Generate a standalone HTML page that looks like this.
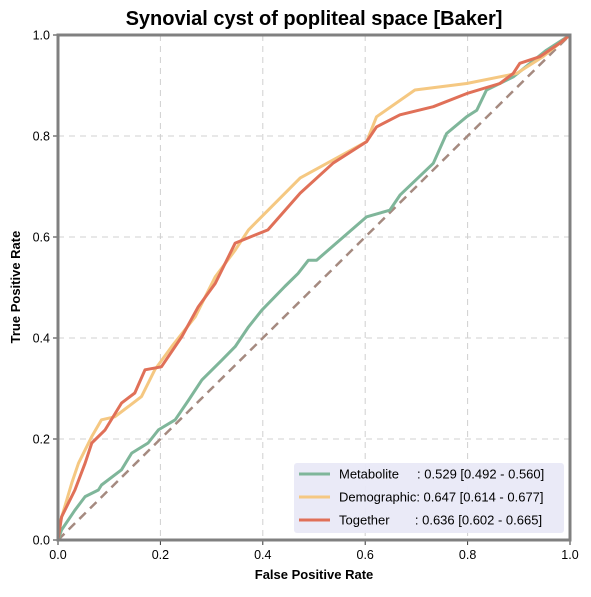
<!DOCTYPE html>
<html><head><meta charset="utf-8"><style>
body{margin:0;background:#fff;font-family:"Liberation Sans",sans-serif}
text{white-space:pre}
</style></head><body>
<svg width="591" height="592" xmlns="http://www.w3.org/2000/svg" font-family="Liberation Sans, sans-serif">
<text x="314" y="25" text-anchor="middle" font-size="20" font-weight="bold">Synovial cyst of popliteal space [Baker]</text>
<g id="grid"></g>
<g id="axes"></g>
<g id="series"></g>
<rect x="58" y="35" width="512" height="505" fill="none" stroke="#808080" stroke-width="3"/>
<text x="314" y="579" text-anchor="middle" font-size="13" font-weight="bold">False Positive Rate</text>
<text transform="translate(20,287) rotate(-90)" text-anchor="middle" font-size="13" font-weight="bold">True Positive Rate</text>
<g>
<rect x="294" y="463" width="270" height="70" rx="3" fill="#e9e9f7" opacity="0.95"/>
<line x1="299" y1="474" x2="330" y2="474" stroke="#7fb69a" stroke-width="3"/>
<text x="339" y="478.5" font-size="13" xml:space="preserve">Metabolite     : 0.529 [0.492 - 0.560]</text>
<line x1="299" y1="497" x2="330" y2="497" stroke="#f5c882" stroke-width="3"/>
<text x="339" y="501.5" font-size="13" xml:space="preserve">Demographic: 0.647 [0.614 - 0.677]</text>
<line x1="299" y1="520" x2="330" y2="520" stroke="#e07058" stroke-width="3"/>
<text x="339" y="524.5" font-size="13" xml:space="preserve">Together       : 0.636 [0.602 - 0.665]</text>
</g>
</svg>
<script>
const ticks=[0,0.2,0.4,0.6,0.8,1.0];
const tickLabels=["0.0","0.2","0.4","0.6","0.8","1.0"];
const metFpr=[0,0.007,0.033,0.053,0.079,0.085,0.124,0.144,0.176,0.196,0.229,0.255,0.281,0.32,0.346,0.372,0.398,0.443,0.469,0.489,0.505,0.603,0.648,0.668,0.733,0.759,0.798,0.818,0.837,0.889,0.954,1];
const metTpr=[0,0.02,0.059,0.086,0.099,0.109,0.139,0.172,0.192,0.218,0.238,0.277,0.317,0.356,0.383,0.422,0.455,0.502,0.528,0.554,0.554,0.64,0.653,0.683,0.746,0.805,0.838,0.851,0.891,0.917,0.97,1];
const demFpr=[0,0.004,0.027,0.04,0.066,0.085,0.111,0.163,0.189,0.222,0.268,0.307,0.346,0.372,0.473,0.603,0.622,0.697,0.798,0.896,0.947,1];
const demTpr=[0,0.034,0.113,0.152,0.205,0.238,0.244,0.284,0.337,0.383,0.442,0.521,0.574,0.614,0.717,0.789,0.838,0.891,0.904,0.924,0.957,1];
const togFpr=[0,0.007,0.033,0.053,0.066,0.092,0.124,0.15,0.17,0.202,0.242,0.274,0.307,0.346,0.385,0.41,0.473,0.537,0.603,0.622,0.668,0.733,0.798,0.863,0.889,0.902,0.941,0.98,1];
const togTpr=[0,0.046,0.099,0.152,0.192,0.218,0.271,0.291,0.337,0.343,0.403,0.462,0.508,0.588,0.604,0.614,0.687,0.746,0.789,0.818,0.842,0.858,0.884,0.904,0.924,0.944,0.957,0.984,1];
const X0=58,X1=570,Y0=540,Y1=35;
const sx=v=>X0+v*(X1-X0), sy=v=>Y0-v*(Y0-Y1);
const NS="http://www.w3.org/2000/svg";
const grid=document.getElementById('grid'),axes=document.getElementById('axes'),series=document.getElementById('series');
function mk(t,a,p){const e=document.createElementNS(NS,t);for(const k in a)e.setAttribute(k,a[k]);p.appendChild(e);return e;}
ticks.forEach((t,i)=>{
 if(t>0&&t<1){
  const gv=mk('line',{x1:sx(t),x2:sx(t),y1:Y1,y2:Y0,stroke:'#d0d0d0','stroke-dasharray':'6,5'},grid);
  
  
  const gh=mk('line',{x1:X0,x2:X1,y1:sy(t),y2:sy(t),stroke:'#d0d0d0','stroke-dasharray':'6,5'},grid);
  
  
 }
 const tx=mk('line',{x1:sx(t),x2:sx(t),y1:Y0,y2:Y0+5,stroke:'#333'},axes);
 
 
 const lx=mk('text',{x:sx(t),y:Y0+19,'text-anchor':'middle','font-size':'12.5'},axes);
 lx.textContent=tickLabels[i];
 
 
 const ty=mk('line',{x1:X0-5,x2:X0,y1:sy(t),y2:sy(t),stroke:'#333'},axes);
 
 
 const ly=mk('text',{x:X0-8,y:sy(t)+4.5,'text-anchor':'end','font-size':'12.5'},axes);
 ly.textContent=tickLabels[i];
 
 
});
const diag=mk('line',{x1:sx(0),y1:sy(0),x2:sx(1),y2:sy(1),stroke:'#a58a80','stroke-width':2.5,'stroke-dasharray':'9,6'},series);


function curve(xs,ys,c,n){
 const d=xs.map((x,i)=>(i?'L':'M')+sx(x).toFixed(1)+','+sy(ys[i]).toFixed(1)).join(' ');
 const p=mk('path',{d:d,fill:'none',stroke:c,'stroke-width':3,'stroke-linejoin':'round'},series);
 
 
}
curve(metFpr,metTpr,'#7fb69a','metabolite-curve');
curve(demFpr,demTpr,'#f5c882','demographic-curve');
curve(togFpr,togTpr,'#e07058','together-curve');
</script>
</body></html>
